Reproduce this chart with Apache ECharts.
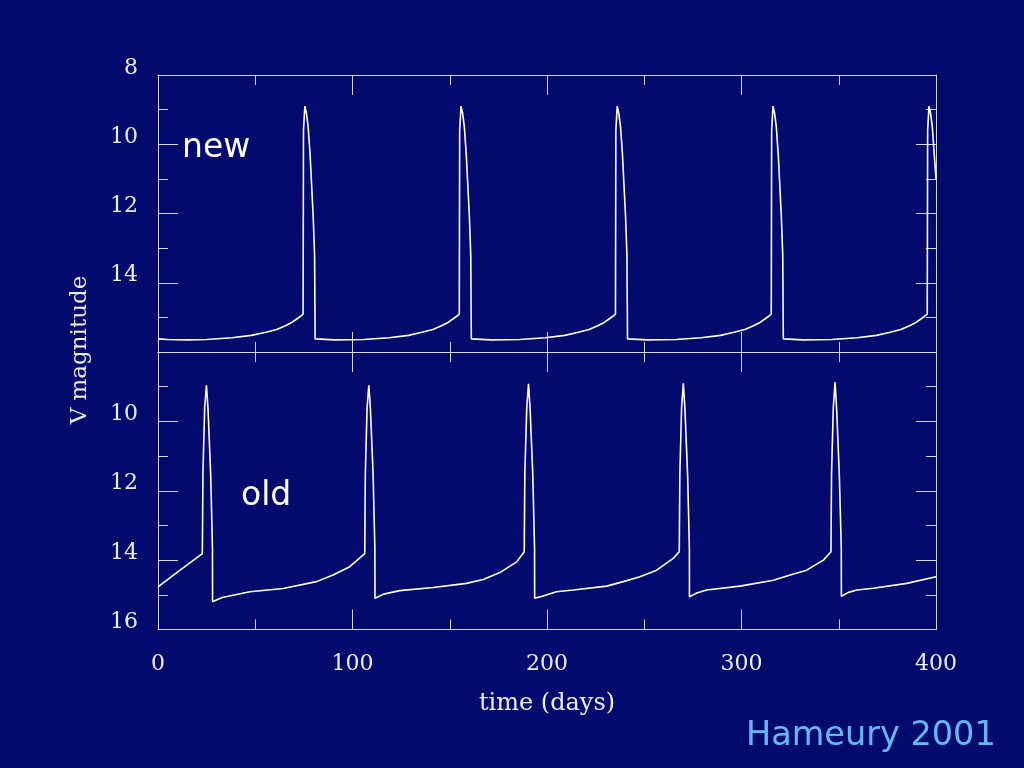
<!DOCTYPE html>
<html>
<head>
<meta charset="utf-8">
<title>Hameury 2001 light curves</title>
<script src="https://cdn.jsdelivr.net/npm/echarts@6/dist/echarts.min.js"></script>
<style>
  html, body { margin: 0; padding: 0; background: #020a6e; }
  #chart { width: 1024px; height: 768px; }
</style>
</head>
<body>
<div id="chart"></div>
<script>
// ---- data ----
var xTickLabels = ['0', '100', '200', '300', '400'];
var yTickLabelsTop = ['8', '10', '12', '14'];
var yTickLabelsBottom = ['10', '12', '14', '16'];
var panelLabels = ['new', 'old'];
var xAxisTitle = 'time (days)';
var yAxisTitle = 'V magnitude';
var creditText = 'Hameury 2001';

// "new" model: time (days)
var newTime = [
  0, 5, 15, 25, 38, 48, 55.5, 61, 65.5, 69, 71.5, 73.5, 74.6, 74.8, 75.5, 76.3, 77.2, 78.2, 79.0, 79.8, 80.5, 80.8,
  90.8, 105.8, 118.8, 128.8, 135.8, 141.3, 145.8, 149.3, 151.8, 153.8, 154.9, 155.1, 155.8, 156.6, 157.5, 158.5, 159.3, 160.1, 160.8, 161.1,
  171.1, 186.1, 199.1, 209.1, 216.1, 221.6, 226.1, 229.6, 232.1, 234.1, 235.2, 235.4, 236.1, 236.9, 237.8, 238.8, 239.6, 240.4, 241.1, 241.4,
  251.4, 266.4, 279.2, 289.2, 296.2, 301.7, 306.2, 309.7, 312.2, 314.2, 315.3, 315.5, 316.2, 317.0, 317.9, 318.9, 319.7, 320.5, 321.2, 321.5,
  331.5, 346.5, 359.4, 369.4, 376.4, 381.9, 386.4, 389.9, 392.4, 394.4, 395.5, 395.7, 396.4, 397.2, 398.1, 399.1, 400
];
// "new" model: V magnitude
var newMag = [
  15.62, 15.64, 15.65, 15.64, 15.59, 15.52, 15.43, 15.35, 15.24, 15.14, 15.04, 14.96, 14.90, 9.6, 8.9, 9.1, 9.5, 10.3, 11.2, 12.1, 13.2, 15.62,
  15.65, 15.64, 15.59, 15.52, 15.43, 15.35, 15.24, 15.14, 15.04, 14.96, 14.90, 9.6, 8.9, 9.1, 9.5, 10.3, 11.2, 12.1, 13.2, 15.62,
  15.65, 15.64, 15.59, 15.52, 15.43, 15.35, 15.24, 15.14, 15.04, 14.96, 14.90, 9.6, 8.9, 9.1, 9.5, 10.3, 11.2, 12.1, 13.2, 15.62,
  15.65, 15.64, 15.59, 15.52, 15.43, 15.35, 15.24, 15.14, 15.04, 14.96, 14.90, 9.6, 8.9, 9.1, 9.5, 10.3, 11.2, 12.1, 13.2, 15.62,
  15.65, 15.64, 15.59, 15.52, 15.43, 15.35, 15.24, 15.14, 15.04, 14.96, 14.90, 9.6, 8.9, 9.1, 9.5, 10.3, 11.0
];

// "old" model: time (days)
var oldTime = [
  0, 11, 22.8, 23.1, 24.0, 24.9, 25.7, 27.1, 28.0, 28.05,
  33, 38.6, 47.2, 64.3, 81.5, 90.0, 98.6, 106.3, 106.6, 107.5, 108.4, 109.2, 110.6, 111.5, 111.55,
  116, 124.3, 141.5, 158.6, 167.2, 175.8, 184.4, 188.3, 188.6, 189.6, 190.5, 191.3, 192.7, 193.6, 193.65,
  196.3, 204.9, 213.5, 230.7, 239.2, 247.8, 256.4, 264.9, 268.0, 268.3, 269.2, 270.1, 270.9, 272.3, 273.2, 273.25,
  277, 282.1, 299.2, 316.4, 325.0, 333.5, 342.1, 346.0, 346.3, 347.2, 348.1, 348.9, 350.3, 351.3, 351.35,
  355, 359.3, 367.8, 385, 400
];
// "old" model: V magnitude
var oldMag = [
  14.77, 14.30, 13.81, 11.5, 9.6, 8.96, 9.63, 11.55, 13.66, 15.20,
  15.08, 15.01, 14.91, 14.82, 14.62, 14.43, 14.19, 13.81, 11.5, 9.6, 8.96, 9.63, 11.55, 13.66, 15.10,
  14.98, 14.88, 14.79, 14.67, 14.56, 14.36, 14.05, 13.76, 11.5, 9.6, 8.92, 9.63, 11.55, 13.66, 15.10,
  15.06, 14.91, 14.86, 14.75, 14.62, 14.48, 14.29, 13.95, 13.76, 11.5, 9.6, 8.90, 9.63, 11.55, 13.66, 15.06,
  14.95, 14.86, 14.75, 14.58, 14.43, 14.29, 14.00, 13.76, 11.5, 9.6, 8.87, 9.63, 11.55, 13.66, 15.04,
  14.93, 14.86, 14.81, 14.67, 14.48
];

function zip(a, b) {
  var out = [];
  for (var i = 0; i < a.length; i++) out.push([a[i], b[i]]);
  return out;
}

var BG = '#020a6e';
var FRAME = '#d4d6e6';
var TEXT = '#eceef6';
var FONT = 'DejaVu Serif';

function xAxisDef(gridIndex, position, showLabels) {
  var ax = {
    type: 'value', gridIndex: gridIndex, position: position,
    min: 0, max: 400, interval: 100,
    axisLine: { show: true, onZero: false, lineStyle: { color: FRAME, width: 1 } },
    axisTick: { show: true, inside: true, length: 20, lineStyle: { color: FRAME, width: 1 } },
    minorTick: { show: true, splitNumber: 2, length: 10, lineStyle: { color: FRAME, width: 1 } },
    splitLine: { show: false },
    axisLabel: {
      show: showLabels, margin: 24, color: TEXT, fontFamily: FONT, fontSize: 22,
      formatter: function (v) { return xTickLabels[Math.round(v / 100)]; }
    }
  };
  if (showLabels) {
    ax.name = xAxisTitle;
    ax.nameLocation = 'middle';
    ax.nameGap = 62;
    ax.nameTextStyle = { color: TEXT, fontFamily: FONT, fontSize: 24 };
  }
  return ax;
}

function yAxisDef(gridIndex, position, labels) {
  return {
    type: 'value', gridIndex: gridIndex, position: position, inverse: true,
    min: 8, max: 16, interval: 2,
    axisLine: { show: true, onZero: false, lineStyle: { color: FRAME, width: 1 } },
    axisTick: { show: true, inside: true, length: 20, lineStyle: { color: FRAME, width: 1 } },
    minorTick: { show: true, splitNumber: 2, length: 10, lineStyle: { color: FRAME, width: 1 } },
    splitLine: { show: false },
    axisLabel: {
      show: !!labels, margin: 20, color: TEXT, fontFamily: FONT, fontSize: 22,
      verticalAlign: 'bottom', lineHeight: 14,
      showMinLabel: true, showMaxLabel: true,
      formatter: function (v) {
        var s = String(v);
        return labels && labels.indexOf(s) >= 0 ? s : '';
      }
    }
  };
}

var chart = echarts.init(document.getElementById('chart'), null, { renderer: 'canvas' });
chart.setOption({
  backgroundColor: BG,
  animation: false,
  grid: [
    { left: 158, top: 75, width: 778, height: 277 },
    { left: 158, top: 352, width: 778, height: 277.5 }
  ],
  xAxis: [
    xAxisDef(0, 'bottom', false),
    xAxisDef(0, 'top', false),
    xAxisDef(1, 'bottom', true),
    xAxisDef(1, 'top', false)
  ],
  yAxis: [
    yAxisDef(0, 'left', yTickLabelsTop),
    yAxisDef(0, 'right', null),
    yAxisDef(1, 'left', yTickLabelsBottom),
    yAxisDef(1, 'right', null)
  ],
  series: [
    {
      name: panelLabels[0], type: 'line', xAxisIndex: 0, yAxisIndex: 0,
      data: zip(newTime, newMag), showSymbol: false, smooth: false,
      lineStyle: { color: '#ffffff', width: 1.6 }, clip: true
    },
    {
      name: panelLabels[1], type: 'line', xAxisIndex: 2, yAxisIndex: 2,
      data: zip(oldTime, oldMag), showSymbol: false, smooth: false,
      lineStyle: { color: '#ffffff', width: 1.6 }, clip: true
    }
  ],
  graphic: [
    {
      type: 'text', x: 80, y: 350, rotation: Math.PI / 2,
      style: { text: yAxisTitle, fill: TEXT, font: '23px "DejaVu Serif"', align: 'center', verticalAlign: 'middle' }
    },
    {
      type: 'text', x: 182, y: 148,
      style: { text: panelLabels[0], fill: '#ffffff', font: '33px "DejaVu Sans"', align: 'left', verticalAlign: 'middle' }
    },
    {
      type: 'text', x: 241, y: 496,
      style: { text: panelLabels[1], fill: '#ffffff', font: '33px "DejaVu Sans"', align: 'left', verticalAlign: 'middle' }
    },
    {
      type: 'text', x: 746, y: 736,
      style: { text: creditText, fill: '#66b8f5', font: '33.5px "DejaVu Sans"', align: 'left', verticalAlign: 'middle' }
    }
  ]
});
</script>
</body>
</html>
